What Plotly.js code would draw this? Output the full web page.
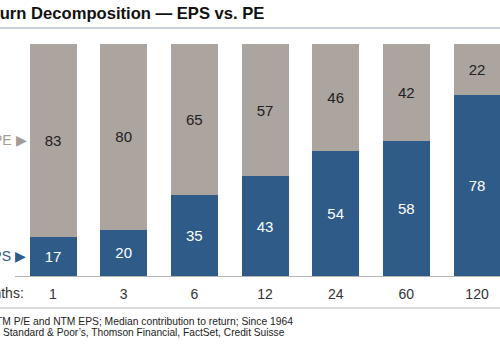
<!DOCTYPE html>
<html>
<head>
<meta charset="utf-8">
<script src="https://cdn.plot.ly/plotly-3.0.1.min.js"></script>
<style>
html,body{margin:0;padding:0;background:#fff;overflow:hidden;}
#chart{width:500px;height:350px;}
</style>
</head>
<body>
<div id="chart"></div>
<script>
const categories = ['1','3','6','12','24','60','120'];
const epsValues = [17,20,35,43,54,58,78];
const peValues = [83,80,65,57,46,42,22];
const titleText = 'Return Decomposition \u2014 EPS vs. PE';
const noteText = 'Note: NTM P/E and NTM EPS; Median contribution to return; Since 1964';
const sourceText = 'Source: Standard &amp; Poor\u2019s, Thomson Financial, FactSet, Credit Suisse';

const W = 500, H = 350;
const plotTop = 44, plotBottom = 276;
const py = p => (plotBottom - p) / (plotBottom - plotTop);
const px = p => p / W;

const BLUE = '#2e5b88';
const GRAY = '#aba49f';
const FONT = 'Liberation Sans, Arial, sans-serif';

const traces = [
  {
    type: 'bar', name: 'EPS', x: categories, y: epsValues,
    marker: {color: BLUE, line: {width: 0}},
    text: epsValues.map(String), textposition: 'inside', insidetextanchor: 'middle',
    textfont: {family: FONT, size: 15, color: '#ffffff'},
    constraintext: 'none', hoverinfo: 'none', cliponaxis: false
  },
  {
    type: 'bar', name: 'PE', x: categories, y: peValues,
    marker: {color: GRAY, line: {width: 0}},
    text: peValues.map(String), textposition: 'inside', insidetextanchor: 'middle',
    textfont: {family: FONT, size: 15, color: '#222222'},
    constraintext: 'none', hoverinfo: 'none', cliponaxis: false
  }
];

const layout = {
  width: W, height: H,
  margin: {l: 0, r: 0, t: plotTop, b: H - plotBottom, pad: 0},
  paper_bgcolor: '#ffffff', plot_bgcolor: '#ffffff',
  barmode: 'stack', bargap: 0.335,
  showlegend: false,
  font: {family: FONT, color: '#222'},
  xaxis: {
    type: 'category', range: [-0.75, 6.325], fixedrange: true,
    showgrid: false, zeroline: false, showline: false,
    ticks: '', tickfont: {family: FONT, size: 14, color: '#333'},
    ticklabelstandoff: 8
  },
  yaxis: {
    range: [0, 100], showgrid: false, zeroline: false, showline: false,
    showticklabels: false, ticks: '', fixedrange: true
  },
  shapes: [
    {type: 'line', xref: 'paper', yref: 'paper', x0: 0, x1: 1, y0: py(28), y1: py(28),
     line: {color: '#8da0b8', width: 1.2}},
    {type: 'line', xref: 'paper', yref: 'paper', x0: px(15), x1: 1, y0: py(276.5), y1: py(276.5),
     line: {color: '#b5b5b5', width: 1}},
    {type: 'line', xref: 'paper', yref: 'paper', x0: 0, x1: 1, y0: py(308), y1: py(308),
     line: {color: '#b5b5b5', width: 1.2}}
  ],
  annotations: [
    {text: '<b>' + titleText + '</b>', xref: 'paper', yref: 'paper', x: px(266), y: py(14),
     xanchor: 'right', yanchor: 'middle', showarrow: false,
     font: {family: FONT, size: 16.6, color: '#111'}},
    {text: 'PE \u25B6', xref: 'paper', yref: 'y', x: px(29), y: epsValues[0] + peValues[0] / 2,
     xanchor: 'right', yanchor: 'middle', showarrow: false,
     font: {family: FONT, size: 14, color: '#a39c97'}},
    {text: 'EPS \u25B6', xref: 'paper', yref: 'y', x: px(28), y: epsValues[0] / 2,
     xanchor: 'right', yanchor: 'middle', showarrow: false,
     font: {family: FONT, size: 14, color: BLUE}},
    {text: 'Months:', xref: 'paper', yref: 'paper', x: px(26), y: py(293),
     xanchor: 'right', yanchor: 'middle', showarrow: false,
     font: {family: FONT, size: 14, color: '#333'}},
    {text: noteText, xref: 'paper', yref: 'paper', x: px(295), y: py(321),
     xanchor: 'right', yanchor: 'middle', showarrow: false,
     font: {family: FONT, size: 10.3, color: '#222'}},
    {text: sourceText, xref: 'paper', yref: 'paper', x: px(287), y: py(332),
     xanchor: 'right', yanchor: 'middle', showarrow: false,
     font: {family: FONT, size: 10.2, color: '#222'}}
  ]
};

Plotly.newPlot('chart', traces, layout, {displayModeBar: false, staticPlot: true});
</script>
</body>
</html>
